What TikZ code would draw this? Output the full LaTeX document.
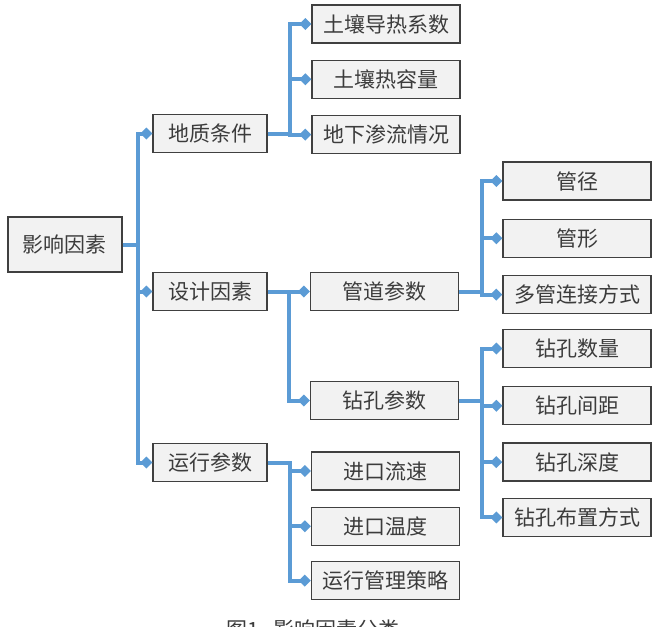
\documentclass[tikz,border=0pt]{standalone}
\usepackage{fontspec}
\usepackage{tikz}
\usetikzlibrary{positioning}
\usetikzlibrary{arrows.meta}
\newfontfamily\cjk{Noto Sans CJK SC}
\definecolor{linkblue}{RGB}{91,155,213}
\definecolor{boxgray}{RGB}{242,242,242}
\definecolor{edgegray}{RGB}{64,64,64}
\definecolor{textgray}{RGB}{60,60,60}

\tikzset{
    item/.style={draw=edgegray, fill=boxgray, line width=1.3pt, inner sep=0pt, minimum height=38pt, text=textgray, font=\cjk\fontsize{21}{21}\selectfont},
    short/.style={item, minimum width=114pt},
    long/.style={item, minimum width=148pt},
    link/.style={draw=linkblue, line width=4pt, -{Diamond[length=12pt, width=12pt]}},
}

\begin{document}
\begin{tikzpicture}[x=1pt, y=-1pt]
    \useasboundingbox (0,0) rectangle (654,627);

    \node[short, minimum height=55pt] (root) at (65,244.5) {影响因素};

    \node[short] (geo) at (210,133.5) {地质条件};
    \node[short] (des) at (210,291.5) {设计因素};
    \node[short] (ops) at (210,462.5) {运行参数};

    \node[long] (g1) at (386,24) {土壤导热系数};
    \node[long, below=16pt of g1] (g2) {土壤热容量};
    \node[long, below=16pt of g2] (g3) {地下渗流情况};

    \node[long] (pipe) at (384.5,291.5) {管道参数};
    \node[long] (bore) at (384.5,400.5) {钻孔参数};

    \node[long] (p1) at (577,181) {管径};
    \node[long, below=18pt of p1] (p2) {管形};
    \node[long, below=17pt of p2] (p3) {多管连接方式};

    \node[long] (b1) at (577,348.5) {钻孔数量};
    \node[long, below=18pt of b1] (b2) {钻孔间距};
    \node[long, below=17pt of b2] (b3) {钻孔深度};
    \node[long, below=16pt of b3] (b4) {钻孔布置方式};

    \node[long] (o1) at (385.5,471) {进口流速};
    \node[long, below=16pt of o1] (o2) {进口温度};
    \node[long, below=15pt of o2] (o3) {运行管理策略};

    \coordinate (rootbus) at ([xshift=15pt]root.east);
    \coordinate (geobus) at ([xshift=22pt]geo.east);
    \coordinate (desbus) at ([xshift=21pt]des.east);
    \coordinate (opsbus) at ([xshift=22pt]ops.east);
    \coordinate (pipebus) at ([xshift=23pt]pipe.east);
    \coordinate (borebus) at ([xshift=23pt]bore.east);

    \draw[link] (root.east) -- (rootbus) |- (geo.west);
    \draw[link] (root.east) -- (rootbus) |- (des.west);
    \draw[link] (root.east) -- (rootbus) |- (ops.west);

    \draw[link] (geo.east) -- (geobus) |- (g1.west);
    \draw[link] (geo.east) -- (geobus) |- (g2.west);
    \draw[link] (geo.east) -- (geobus) |- (g3.west);

    \draw[link] (des.east) -- (desbus) |- (pipe.west);
    \draw[link] (des.east) -- (desbus) |- (bore.west);

    \draw[link] (pipe.east) -- (pipebus) |- (p1.west);
    \draw[link] (pipe.east) -- (pipebus) |- (p2.west);
    \draw[link] (pipe.east) -- (pipebus) |- (p3.west);

    \draw[link] (bore.east) -- (borebus) |- (b1.west);
    \draw[link] (bore.east) -- (borebus) |- (b2.west);
    \draw[link] (bore.east) -- (borebus) |- (b3.west);
    \draw[link] (bore.east) -- (borebus) |- (b4.west);

    \draw[link] (ops.east) -- (opsbus) |- (o1.west);
    \draw[link] (ops.east) -- (opsbus) |- (o2.west);
    \draw[link] (ops.east) -- (opsbus) |- (o3.west);

    \node[anchor=base west, text=textgray, font=\cjk\fontsize{21}{21}\selectfont] (cap) at (223,637) {图1\hspace{14pt}影响因素分类};
\end{tikzpicture}
\end{document}
